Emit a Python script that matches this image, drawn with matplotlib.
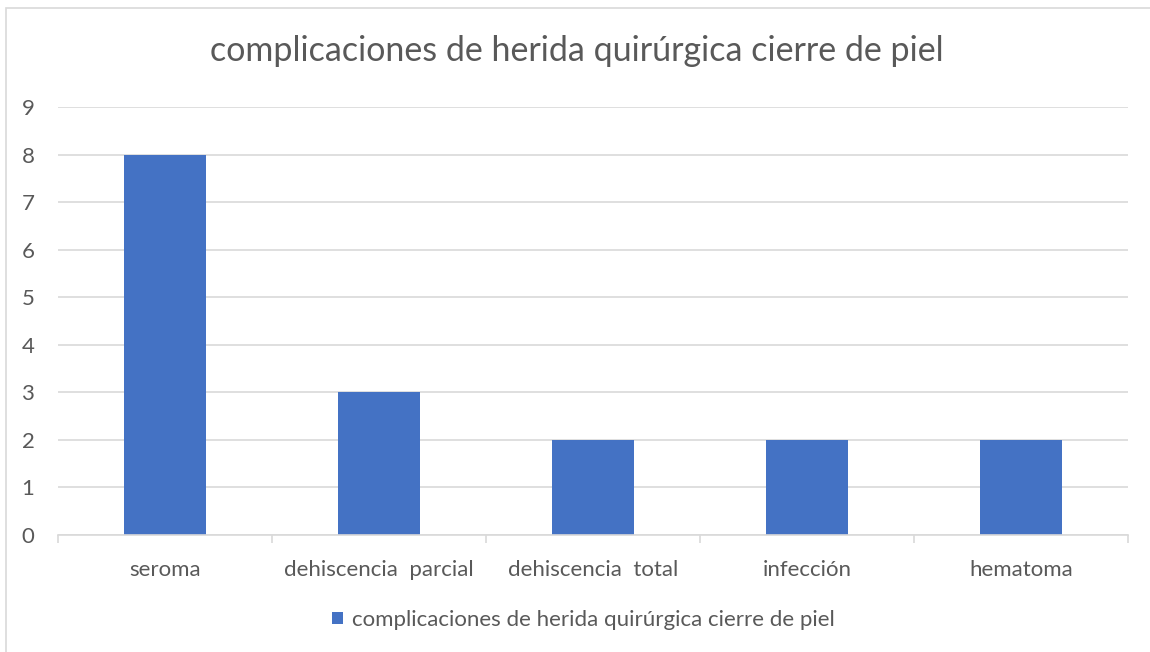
import matplotlib
matplotlib.use("Agg")
import matplotlib.pyplot as plt
from matplotlib.patches import Rectangle
from matplotlib.ticker import FixedLocator

categories = ["seroma", "dehiscencia  parcial", "dehiscencia  total", "infección", "hematoma"]
values = [8, 3, 2, 2, 2]
series_name = "complicaciones de herida quirúrgica cierre de piel"
title = "complicaciones de herida quirúrgica cierre de piel"
yticks = list(range(0, 10))

plt.rcParams['font.family'] = ['Lato', 'DejaVu Sans']
text_color = "#595959"
grid_color = "#d9d9d9"
bar_color = "#4472c4"

fig = plt.figure(figsize=(11.5, 6.52), dpi=100)
ax = fig.add_axes([58/1150, 1-535/652, (1128-58)/1150, (535-107)/652])

x = list(range(len(categories)))
ax.bar(x, values, width=0.385, color=bar_color, zorder=3, label=series_name)
ax.set_xlim(-0.5, len(categories)-0.5)
ax.set_ylim(0, 9)
ax.set_yticks(yticks)
ax.set_yticklabels([str(t) for t in yticks])
ax.yaxis.grid(True, color=grid_color, linewidth=1.2, zorder=0)
ax.set_xticks(x)
ax.set_xticklabels(categories)
ax.xaxis.set_minor_locator(FixedLocator([i - 0.5 for i in range(len(categories)+1)]))
ax.tick_params(axis='x', which='major', length=0, pad=18, labelsize=16, labelcolor=text_color)
ax.tick_params(axis='x', which='minor', length=6, width=1.2, color=grid_color, direction='out')
ax.tick_params(axis='y', length=0, pad=17, labelsize=16, labelcolor=text_color)
for s in ['top', 'right', 'left']:
    ax.spines[s].set_visible(False)
ax.spines['bottom'].set_color(grid_color)
ax.spines['bottom'].set_linewidth(1.2)
ax.spines['bottom'].set_zorder(4)

fig.text(577/1150, 1-51/652, title, ha='center', va='center', fontsize=24.5, color=text_color)

leg = fig.legend(loc='center', bbox_to_anchor=(583/1150, 1-620/652), frameon=False,
                 fontsize=16, handlelength=0.5, handleheight=0.5, handletextpad=0.4,
                 labelcolor=text_color)

fig.patches.append(Rectangle((6/1150, -0.1), 1.2, 1-8/652+0.1, transform=fig.transFigure,
                             fill=False, edgecolor="#d9d9d9", linewidth=1.2))

fig.savefig("out.png", dpi=100)
